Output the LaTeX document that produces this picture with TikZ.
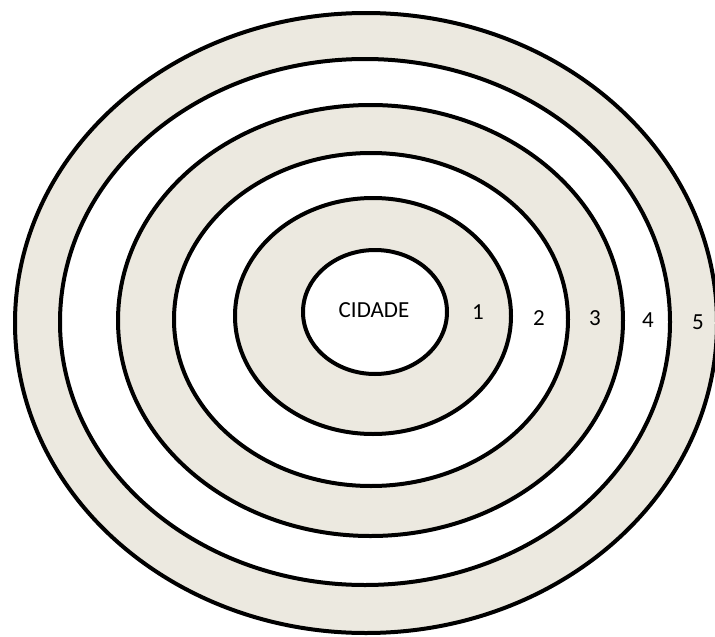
\documentclass[tikz,border=0pt]{standalone}
\usepackage{fontspec}
\setmainfont{Carlito}
\definecolor{ringbeige}{RGB}{236,233,224}
\tikzset{
  ring/.style={draw=black, line width=4pt},
  lbl/.style={inner sep=0pt, font=\fontsize{23}{28}\selectfont, text=black}
}
\begin{document}
\begin{tikzpicture}[x=1pt,y=-1pt]
\useasboundingbox (0,0) rectangle (715,637);
\clip (0,0) rectangle (715,637);
\fill[white] (0,0) rectangle (715,637);
\draw[ring, fill=ringbeige] (366,323) ellipse [x radius=351pt, y radius=310pt];
\draw[ring, fill=white] (365,322) ellipse [x radius=305pt, y radius=263pt];
\draw[ring, fill=ringbeige] (370.5,320.5) ellipse [x radius=252.5pt, y radius=215.5pt];
\draw[ring, fill=white] (371,319.5) ellipse [x radius=197pt, y radius=166.5pt];
\draw[ring, fill=ringbeige] (373,316) ellipse [x radius=138pt, y radius=118pt];
\draw[ring, fill=white] (375,312) ellipse [x radius=72pt, y radius=62pt];
\node[lbl] (cidade) at (374,310) {CIDADE};
\node[lbl] (n1) at (478,312) {1};
\node[lbl] (n2) at (539,318) {2};
\node[lbl] (n3) at (595,318) {3};
\node[lbl] (n4) at (648,320) {4};
\node[lbl] (n5) at (698,322) {5};
\end{tikzpicture}
\end{document}
